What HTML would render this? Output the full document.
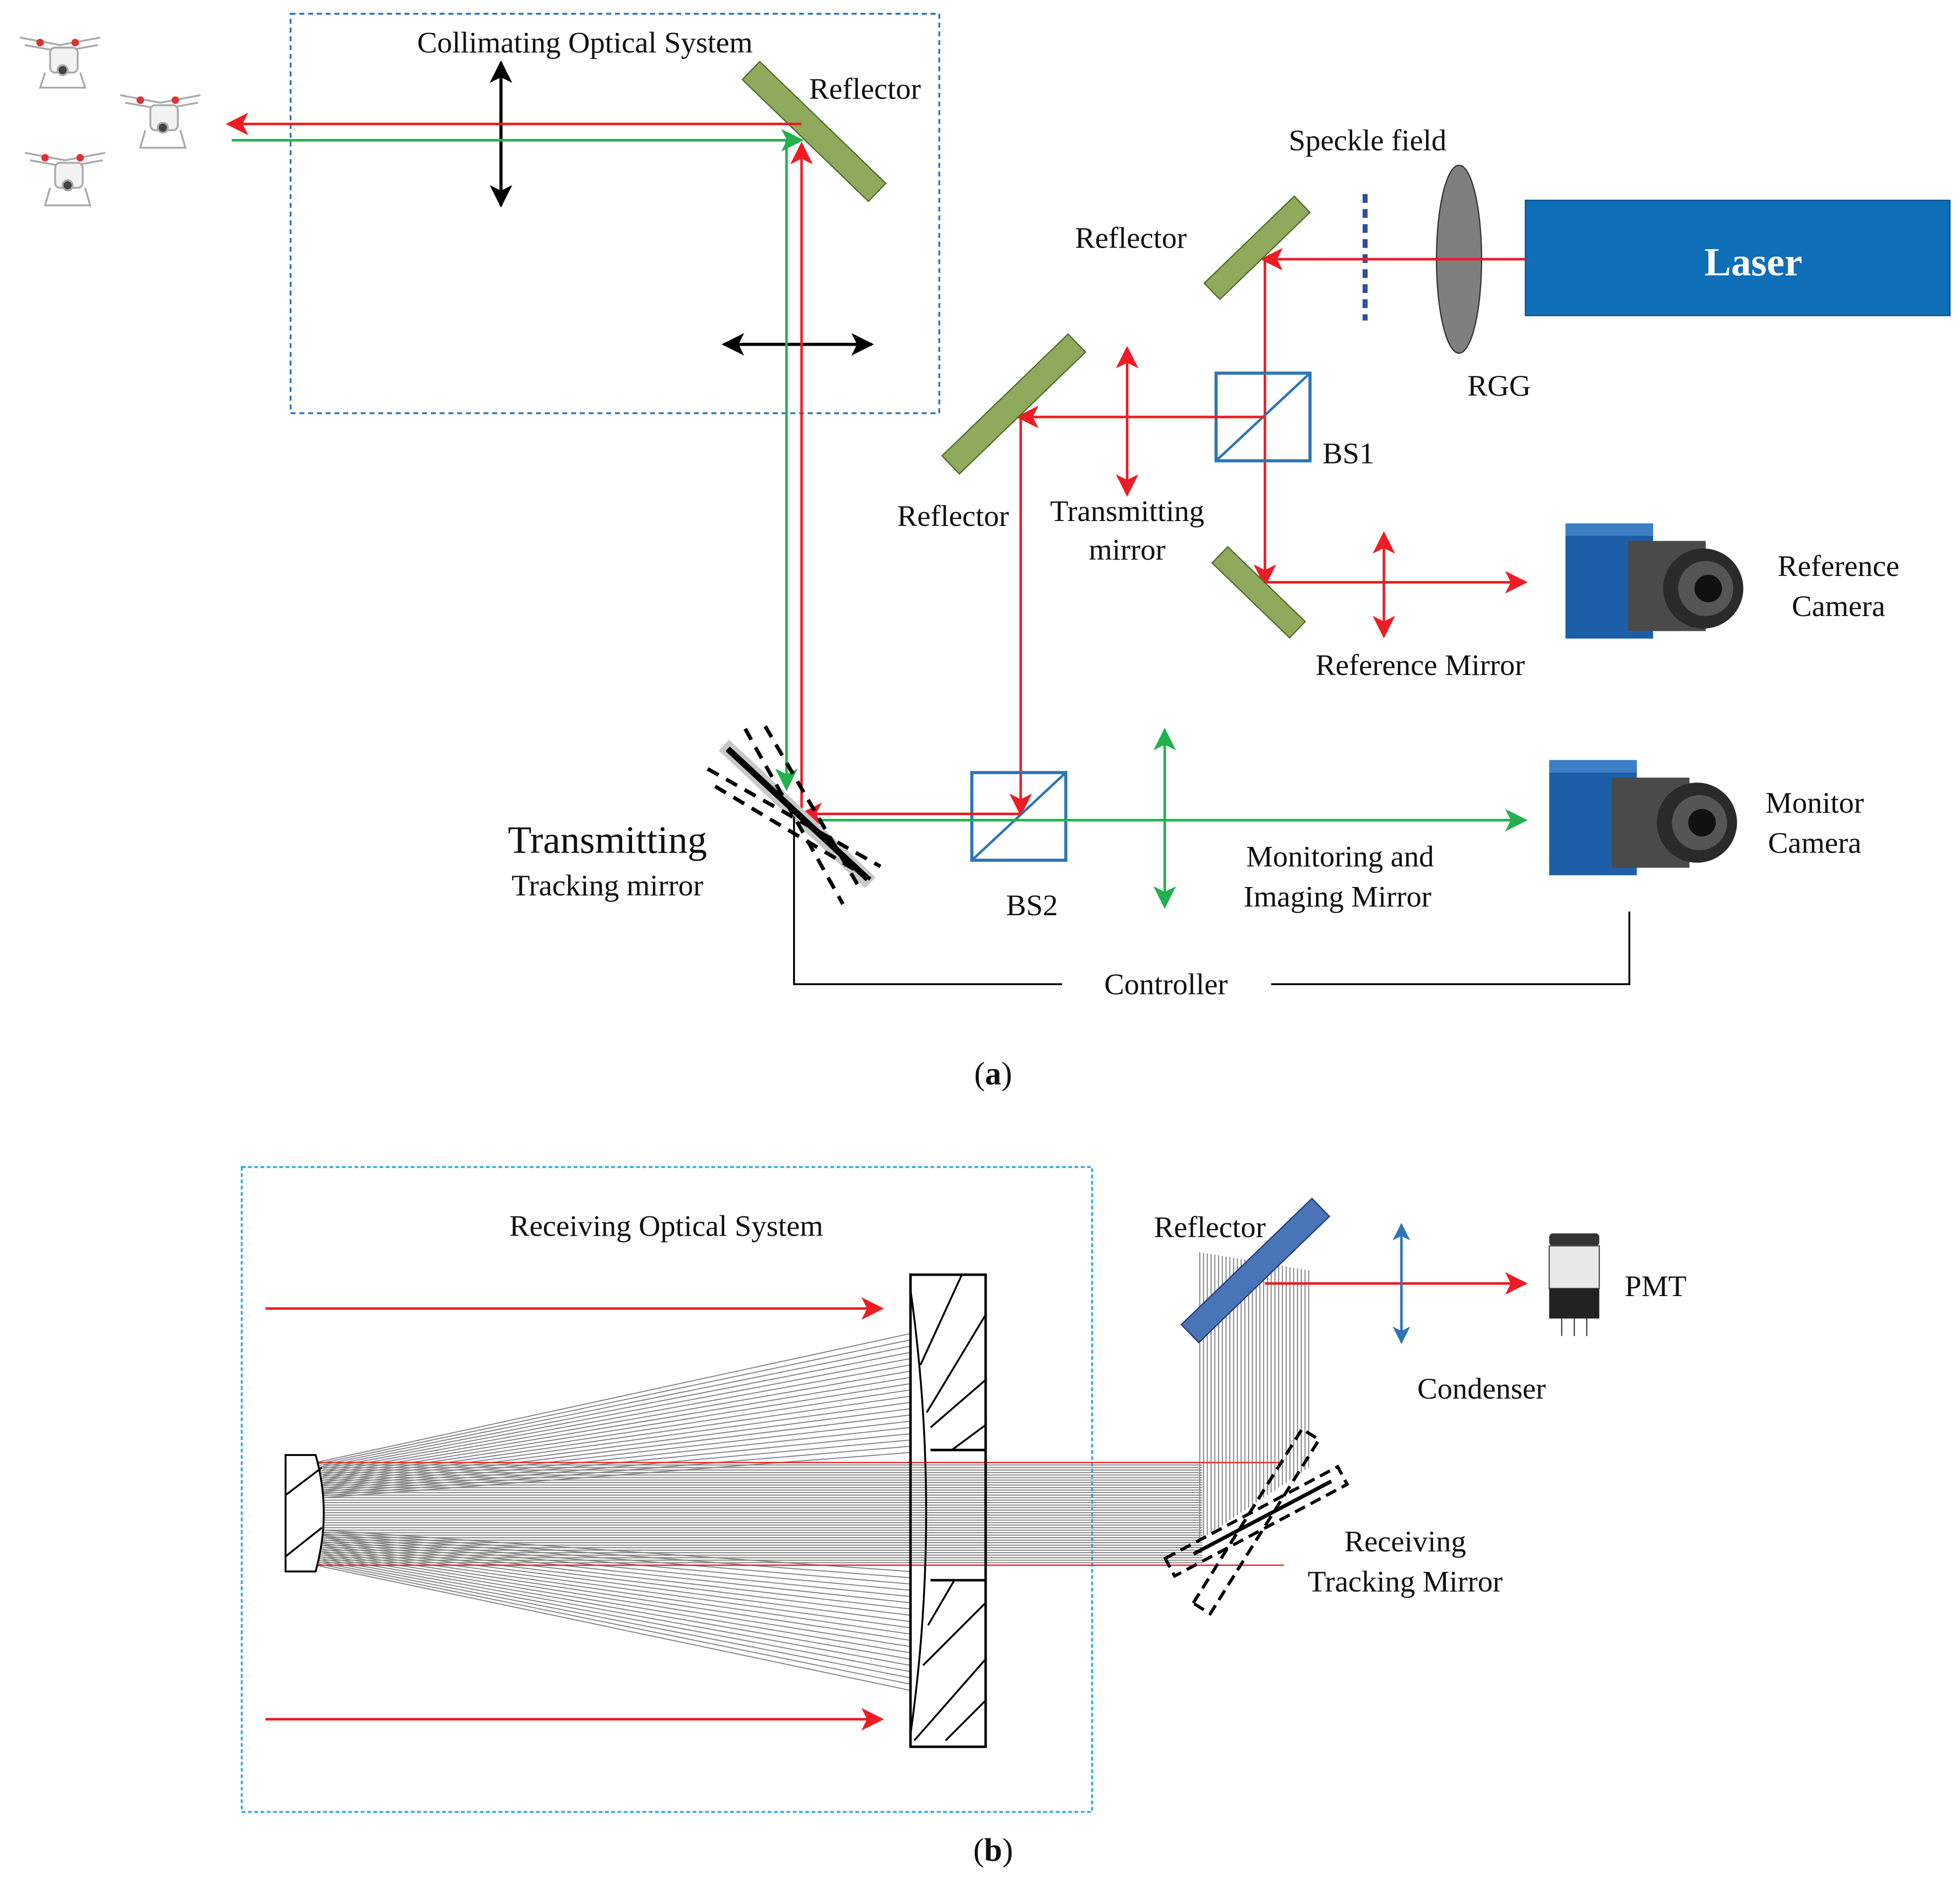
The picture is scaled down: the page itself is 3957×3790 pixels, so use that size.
<!DOCTYPE html>
<html><head><meta charset="utf-8"><style>
html,body{margin:0;padding:0;background:#fff}
svg{display:block}
text{font-family:"Liberation Serif",serif;fill:#111}
</style></head><body>
<svg id="s" width="3957" height="3790" viewBox="0 0 1565 1499" xmlns="http://www.w3.org/2000/svg">
<defs>
<marker id="ar" viewBox="0 0 10 10" refX="9" refY="5" markerWidth="22" markerHeight="18" orient="auto-start-reverse" markerUnits="userSpaceOnUse"><path d="M0,0 L10,5 L0,10 L2.5,5 Z" fill="#ed1c24"/></marker>
<marker id="ag" viewBox="0 0 10 10" refX="9" refY="5" markerWidth="22" markerHeight="18" orient="auto-start-reverse" markerUnits="userSpaceOnUse"><path d="M0,0 L10,5 L0,10 L2.5,5 Z" fill="#22b14c"/></marker>
<marker id="ak" viewBox="0 0 10 10" refX="9" refY="5" markerWidth="22" markerHeight="18" orient="auto-start-reverse" markerUnits="userSpaceOnUse"><path d="M0,0 L10,5 L0,10 L2.5,5 Z" fill="#000"/></marker>
<marker id="ab" viewBox="0 0 10 10" refX="9" refY="5" markerWidth="18" markerHeight="14" orient="auto-start-reverse" markerUnits="userSpaceOnUse"><path d="M0,0 L10,5 L0,10 L2.5,5 Z" fill="#2e75b6"/></marker>
</defs>
<style>
.r{stroke:#ed1c24;stroke-width:2;fill:none}
.g{stroke:#22b14c;stroke-width:2;fill:none}
</style>
<!-- drones -->
<g id="dr" fill="none" stroke="#aaa" stroke-width="1.5">
<g transform="translate(12,22)"><path d="M4,8 L36,14 L68,8 M8,14 L30,18 M44,18 L66,14" /><rect x="28" y="16" width="22" height="20" rx="4" fill="#f2f2f2"/><path d="M24,36 L20,48 L56,48 L52,36"/><circle cx="38" cy="34" r="4" fill="#444"/><circle cx="20" cy="12" r="3" fill="#d33" stroke="none"/><circle cx="48" cy="12" r="3" fill="#d33" stroke="none"/></g>
<g transform="translate(92,68)"><path d="M4,8 L36,14 L68,8 M8,14 L30,18 M44,18 L66,14" /><rect x="28" y="16" width="22" height="20" rx="4" fill="#f2f2f2"/><path d="M24,36 L20,50 L56,50 L52,36"/><circle cx="38" cy="34" r="4" fill="#444"/><circle cx="20" cy="12" r="3" fill="#d33" stroke="none"/><circle cx="48" cy="12" r="3" fill="#d33" stroke="none"/></g>
<g transform="translate(16,114)"><path d="M4,8 L36,14 L68,8 M8,14 L30,18 M44,18 L66,14" /><rect x="28" y="16" width="22" height="20" rx="4" fill="#f2f2f2"/><path d="M24,36 L20,50 L56,50 L52,36"/><circle cx="38" cy="34" r="4" fill="#444"/><circle cx="20" cy="12" r="3" fill="#d33" stroke="none"/><circle cx="48" cy="12" r="3" fill="#d33" stroke="none"/></g>
</g>
<!-- part a -->
<rect x="232" y="11" width="518" height="319" fill="none" stroke="#2e75b6" stroke-width="1.5" stroke-dasharray="4,3"/>
<text x="467" y="42" font-size="24" text-anchor="middle">Collimating Optical System</text>
<line x1="400" y1="50" x2="400" y2="164" stroke="#000" stroke-width="2.5" marker-start="url(#ak)" marker-end="url(#ak)"/>
<line x1="578" y1="275" x2="696" y2="275" stroke="#000" stroke-width="2.5" marker-start="url(#ak)" marker-end="url(#ak)"/>
<rect x="580" y="95" width="140" height="20" fill="#8faa5c" stroke="#4e6b2a" transform="rotate(44 650 105)"/>
<text x="646" y="79" font-size="24">Reflector</text>
<line x1="640" y1="99" x2="182" y2="99" class="r" marker-end="url(#ar)"/>
<line x1="185" y1="112" x2="640" y2="112" class="g" marker-end="url(#ag)"/>
<line x1="640" y1="650" x2="640" y2="115" class="r" marker-end="url(#ar)"/>
<line x1="628" y1="112" x2="628" y2="630" class="g" marker-end="url(#ag)"/>
<!-- laser -->
<rect x="1218" y="160" width="339" height="92" fill="#0f6eb8" stroke="#0a4e86"/>
<text x="1400" y="220" font-size="32" font-weight="bold" text-anchor="middle" style="fill:#fff">Laser</text>
<ellipse cx="1165" cy="207" rx="18" ry="75" fill="#7f7f7f" stroke="#333"/>
<text x="1197" y="316" font-size="24" text-anchor="middle">RGG</text>
<line x1="1090" y1="155" x2="1090" y2="256" stroke="#2e4fa0" stroke-width="4" stroke-dasharray="7,5"/>
<text x="1092" y="120" font-size="24" text-anchor="middle">Speckle field</text>
<line x1="1218" y1="207" x2="1008" y2="207" class="r" marker-end="url(#ar)"/>
<rect x="955" y="190" width="100" height="18" fill="#8faa5c" stroke="#4e6b2a" transform="rotate(-44 1003 200)"/>
<text x="903" y="198" font-size="24" text-anchor="middle">Reflector</text>
<line x1="1010" y1="207" x2="1010" y2="467" class="r" marker-end="url(#ar)"/>
<rect x="971" y="298" width="75" height="70" fill="none" stroke="#2e75b6" stroke-width="2.5"/>
<line x1="971" y1="368" x2="1046" y2="298" stroke="#2e75b6" stroke-width="2"/>
<text x="1056" y="370" font-size="24">BS1</text>
<line x1="1010" y1="333" x2="813" y2="333" class="r" marker-end="url(#ar)"/>
<rect x="740" y="314" width="140" height="20" fill="#8faa5c" stroke="#4e6b2a" transform="rotate(-44 808 324)"/>
<text x="761" y="420" font-size="24" text-anchor="middle">Reflector</text>
<line x1="900" y1="278" x2="900" y2="395" class="r" marker-start="url(#ar)" marker-end="url(#ar)"/>
<text x="900" y="416" font-size="24" text-anchor="middle">Transmitting</text>
<text x="900" y="447" font-size="24" text-anchor="middle">mirror</text>
<line x1="815" y1="333" x2="815" y2="650" class="r" marker-end="url(#ar)"/>
<rect x="962" y="464" width="86" height="18" fill="#8faa5c" stroke="#4e6b2a" transform="rotate(44 1005 473)"/>
<line x1="1010" y1="465" x2="1218" y2="465" class="r" marker-end="url(#ar)"/>
<line x1="1105" y1="426" x2="1105" y2="508" class="r" marker-start="url(#ar)" marker-end="url(#ar)"/>
<text x="1134" y="539" font-size="24" text-anchor="middle">Reference Mirror</text>
<!-- cameras -->
<g transform="translate(1250,418)"><rect x="0" y="0" width="70" height="92" fill="#1c5fa8"/><rect x="0" y="0" width="70" height="10" fill="#3d7fc4"/><rect x="50" y="14" width="62" height="72" fill="#4a4a4a"/><circle cx="110" cy="52" r="32" fill="#2a2a2a"/><circle cx="112" cy="52" r="22" fill="#555"/><circle cx="114" cy="52" r="11" fill="#111"/></g>
<text x="1468" y="460" font-size="24" text-anchor="middle">Reference</text>
<text x="1468" y="492" font-size="24" text-anchor="middle">Camera</text>
<g transform="translate(1237,607)"><rect x="0" y="0" width="70" height="92" fill="#1c5fa8"/><rect x="0" y="0" width="70" height="10" fill="#3d7fc4"/><rect x="50" y="14" width="62" height="72" fill="#4a4a4a"/><circle cx="118" cy="50" r="32" fill="#2a2a2a"/><circle cx="120" cy="50" r="22" fill="#555"/><circle cx="122" cy="50" r="11" fill="#111"/></g>
<text x="1449" y="649" font-size="24" text-anchor="middle">Monitor</text>
<text x="1449" y="681" font-size="24" text-anchor="middle">Camera</text>
<rect x="776" y="617" width="75" height="70" fill="none" stroke="#2e75b6" stroke-width="2.5"/>
<line x1="776" y1="687" x2="851" y2="617" stroke="#2e75b6" stroke-width="2"/>
<text x="824" y="731" font-size="24" text-anchor="middle">BS2</text>
<line x1="640" y1="655" x2="1218" y2="655" class="g" marker-end="url(#ag)"/>
<line x1="815" y1="650" x2="640" y2="650" class="r" marker-end="url(#ar)"/>
<line x1="930" y1="583" x2="930" y2="724" class="g" marker-start="url(#ag)" marker-end="url(#ag)"/>
<text x="1070" y="692" font-size="24" text-anchor="middle">Monitoring and</text>
<text x="1068" y="724" font-size="24" text-anchor="middle">Imaging Mirror</text>
<!-- tracking mirror -->
<g transform="translate(633,650)">
<line x1="-55" y1="-55" x2="62" y2="55" stroke="#c8c8c8" stroke-width="12"/>
<line x1="-52" y1="-52" x2="60" y2="52" stroke="#000" stroke-width="5"/>
<g stroke="#000" stroke-width="3" stroke-dasharray="10,7"><line x1="-38" y1="-68" x2="40" y2="72"/><line x1="-22" y1="-70" x2="55" y2="62"/><line x1="-68" y1="-36" x2="70" y2="42"/><line x1="-62" y1="-22" x2="62" y2="52"/></g>
</g>
<text x="485" y="681" font-size="31" text-anchor="middle">Transmitting</text>
<text x="485" y="715" font-size="24" text-anchor="middle">Tracking mirror</text>
<polyline points="634,652 634,786 848,786" fill="none" stroke="#000" stroke-width="1.5"/>
<polyline points="1015,786 1301,786 1301,728" fill="none" stroke="#000" stroke-width="1.5"/>
<text x="931" y="794" font-size="24" text-anchor="middle">Controller</text>
<text x="793" y="866" font-size="26" text-anchor="middle">(<tspan font-weight="bold">a</tspan>)</text>
<!-- part b -->
<rect x="193" y="932" width="679" height="515" fill="none" stroke="#29abe2" stroke-width="1.5" stroke-dasharray="3,2"/>
<text x="532" y="987" font-size="24" text-anchor="middle">Receiving Optical System</text>
<g id="rays" stroke="#808080" stroke-width="0.8"></g>
<line x1="250" y1="1168" x2="1025" y2="1168" stroke="#ed1c24" stroke-width="1"/>
<line x1="250" y1="1250" x2="1025" y2="1250" stroke="#ed1c24" stroke-width="1"/>
<line x1="212" y1="1045" x2="704" y2="1045" class="r" marker-end="url(#ar)"/>
<line x1="212" y1="1373" x2="704" y2="1373" class="r" marker-end="url(#ar)"/>
<path d="M228,1162 L252,1162 Q265,1208 252,1255 L228,1255 Z" fill="#fff" stroke="#000" stroke-width="1.5"/>
<line x1="228" y1="1194" x2="257" y2="1172" stroke="#000" stroke-width="1.5"/>
<line x1="228" y1="1243" x2="257" y2="1220" stroke="#000" stroke-width="1.5"/>
<rect x="727" y="1018" width="60" height="377" fill="none" stroke="#000" stroke-width="2"/>
<path d="M727,1030 Q752,1208 727,1385" fill="none" stroke="#000" stroke-width="1.5"/>
<line x1="743" y1="1158" x2="787" y2="1158" stroke="#000" stroke-width="2"/>
<line x1="743" y1="1262" x2="787" y2="1262" stroke="#000" stroke-width="2"/>
<g stroke="#000" stroke-width="1.5"><line x1="735" y1="1090" x2="768" y2="1018"/><line x1="740" y1="1128" x2="787" y2="1050"/><line x1="743" y1="1140" x2="787" y2="1102"/><line x1="760" y1="1158" x2="787" y2="1138"/><line x1="741" y1="1298" x2="762" y2="1262"/><line x1="737" y1="1330" x2="787" y2="1280"/><line x1="730" y1="1390" x2="787" y2="1325"/><line x1="755" y1="1390" x2="787" y2="1358"/></g>
<rect x="930" y="1005" width="145" height="20" fill="#4a74b8" stroke="#1e3d7a" transform="rotate(-44 1002 1015)"/>
<text x="966" y="988" font-size="24" text-anchor="middle">Reflector</text>
<line x1="1010" y1="1025" x2="1218" y2="1025" class="r" marker-end="url(#ar)"/>
<line x1="1119" y1="978" x2="1119" y2="1072" stroke="#2e75b6" stroke-width="2" marker-start="url(#ab)" marker-end="url(#ab)"/>
<text x="1183" y="1117" font-size="24" text-anchor="middle">Condenser</text>
<g transform="translate(1235,985)"><rect x="2" y="0" width="40" height="10" rx="3" fill="#333"/><rect x="2" y="10" width="40" height="34" fill="#e8e8e8" stroke="#555"/><rect x="2" y="44" width="40" height="24" fill="#222"/><g stroke="#444"><line x1="12" y1="68" x2="12" y2="82"/><line x1="22" y1="68" x2="22" y2="82"/><line x1="32" y1="68" x2="32" y2="82"/></g></g>
<text x="1322" y="1035" font-size="24" text-anchor="middle">PMT</text>
<g transform="translate(1003,1215)">
<rect x="-78" y="-8" width="156" height="16" fill="none" stroke="#000" stroke-width="2.5" stroke-dasharray="9,5" transform="rotate(-28)"/>
<rect x="-82" y="-8" width="164" height="16" fill="none" stroke="#000" stroke-width="2.5" stroke-dasharray="9,5" transform="rotate(-58)"/>
<line x1="-50" y1="26" x2="60" y2="-32" stroke="#000" stroke-width="3"/>
</g>
<text x="1122" y="1239" font-size="24" text-anchor="middle">Receiving</text>
<text x="1122" y="1271" font-size="24" text-anchor="middle">Tracking Mirror</text>
<text x="793" y="1486" font-size="26" text-anchor="middle">(<tspan font-weight="bold">b</tspan>)</text>
</svg>
<script>
var g=document.getElementById('rays'),ns='http://www.w3.org/2000/svg';
function L(a,b,c,d){var l=document.createElementNS(ns,'line');l.setAttribute('x1',a);l.setAttribute('y1',b);l.setAttribute('x2',c);l.setAttribute('y2',d);g.appendChild(l);}
for(var i=0;i<20;i++){var y=1065+i*5;L(252,1168+i*1.5,727,y);var y2=1350-i*5;L(252,1250-i*1.5,727,y2);}
for(var i=0;i<40;i++){var y=1170+i*2;L(258,y,960,y);}
for(var i=0;i<30;i++){var x=958+i*3;L(x,1000+i*0.5,x,1230-i*2);}
</script>
</body></html>
